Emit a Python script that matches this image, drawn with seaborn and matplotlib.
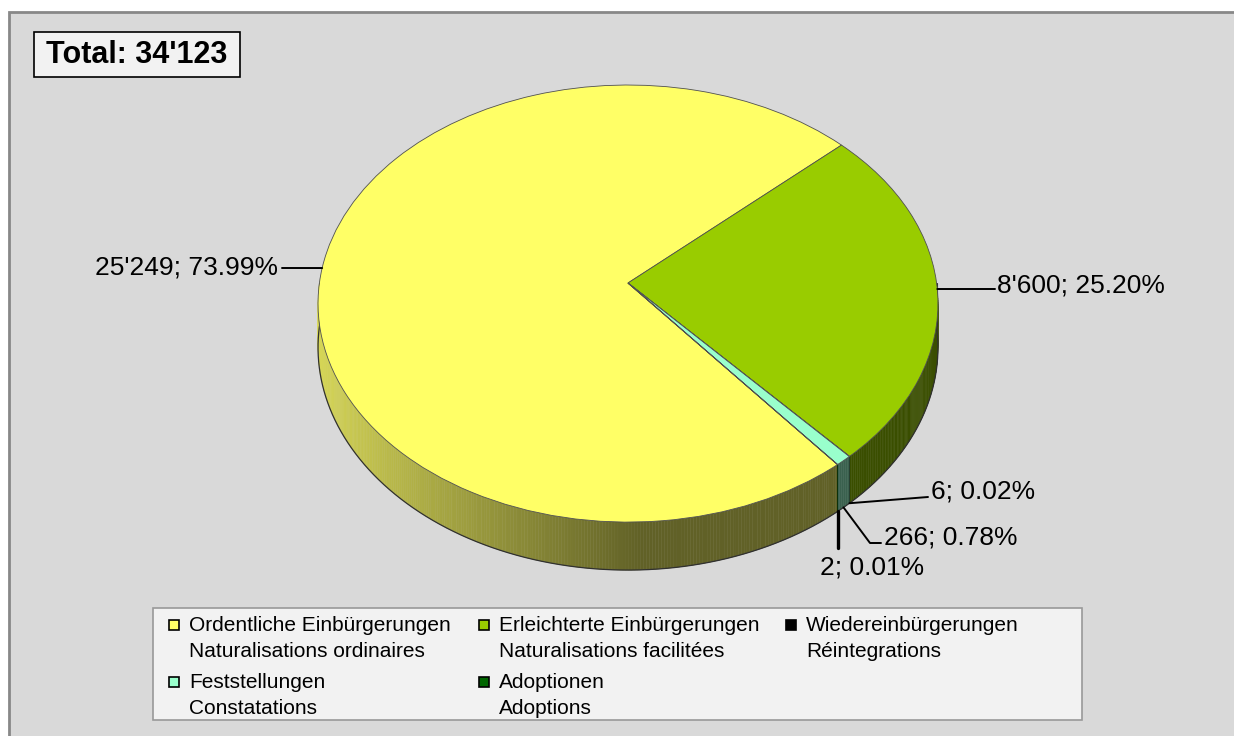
import numpy as np
import matplotlib
matplotlib.use("Agg")
import matplotlib.pyplot as plt
import matplotlib.transforms as mtransforms
from matplotlib.patches import Rectangle
import seaborn as sns

# Naturalisations by type
categories = [
    "Ordentliche Einbürgerungen\nNaturalisations ordinaires",
    "Erleichterte Einbürgerungen\nNaturalisations facilitées",
    "Wiedereinbürgerungen\nRéintegrations",
    "Feststellungen\nConstatations",
    "Adoptionen\nAdoptions",
]
counts = [25249, 8600, 6, 266, 2]
colors = ["#ffff66", "#99cc00", "#000000", "#99ffcc", "#006600"]
total = sum(counts)


def fmt_num(v):
    return f"{v:,}".replace(",", "'")


labels = [f"{fmt_num(v)}; {v / total * 100:.2f}%" for v in counts]
total_label = f"Total: {fmt_num(total)}"

W, H = 1234, 736
CX, CY = 628, H - 283      # pie apex in pixels (y up)
A, B, P = 308.6, 216.6, 0.094   # tilted-disc projection
DEPTH = 48 * (1 - P)       # side thickness (48 px at the front)


class Tilt(mtransforms.Transform):
    """Project the flat unit pie onto a tilted disc (simple perspective)."""
    input_dims = 2
    output_dims = 2
    is_separable = False
    has_inverse = False

    def transform_non_affine(self, values):
        values = np.asarray(values, dtype=float)
        u, v = values[:, 0], values[:, 1]
        r = 1.0 / (1.0 + P * v)
        return np.column_stack([CX + A * u * r, CY + B * v * r])


def pt(theta, drop=0.0):
    t = np.deg2rad(theta)
    u, v = np.cos(t), np.sin(t)
    r = 1.0 / (1.0 + P * v)
    return CX + A * u * r, CY + B * v * r - drop * r


def shade(theta):
    f = 0.40 + 0.45 * (-np.cos(np.deg2rad(theta)))
    return max(0.38, min(0.86, f))


def py(y):
    return H - y


sns.set_theme(style="white")
plt.rcParams["font.family"] = ["Liberation Sans", "DejaVu Sans"]
plt.rcParams["text.color"] = "black"

fig = plt.figure(figsize=(W / 100, H / 100), dpi=100, facecolor="white")
ax = fig.add_axes([0, 0, 1, 1])

# grey chart area
ax.add_patch(Rectangle((9, -5), W, H - 12 + 5, facecolor="#d9d9d9",
                       edgecolor="#888888", linewidth=2, zorder=0))

wedges, _ = ax.pie(counts, colors=colors, startangle=-51, counterclock=False,
                   center=(0, 0), radius=1,
                   wedgeprops=dict(edgecolor="#505050", linewidth=0.6))
tilt = Tilt()
for w in wedges:
    w.set_transform(tilt + ax.transData)
    w.set_zorder(3)

# front side wall of the pie
for w, c in zip(wedges, colors):
    base = np.array(matplotlib.colors.to_rgb(c))
    for k in range(-3, 2):
        lo = max(w.theta1, 180 + 360 * k)
        hi = min(w.theta2, 360 + 360 * k)
        if hi <= lo:
            continue
        steps = np.linspace(lo, hi, max(2, int((hi - lo) * 2) + 2))
        for a, b in zip(steps[:-1], steps[1:]):
            x0, y0 = pt(a)
            x1, y1 = pt(b)
            x2, y2 = pt(b, DEPTH)
            x3, y3 = pt(a, DEPTH)
            col = base * shade((a + b) / 2)
            ax.fill([x0, x1, x2, x3], [y0, y1, y2, y3],
                    color=col, linewidth=0.3, edgecolor=col, zorder=2)

arc = np.linspace(180, 360, 240)
bx, by = pt(arc, DEPTH)
ax.plot(bx, by, color="#303030", lw=0.9, zorder=2.5)
for a in (180, 360):
    x0, y0 = pt(a)
    x1, y1 = pt(a, DEPTH)
    ax.plot([x0, x1], [y0, y1], color="#303030", lw=0.8, zorder=2.5)


def rim_point(wedge, target_y, left):
    ts = np.linspace(wedge.theta1, wedge.theta2, 2000)
    xs, ys = pt(ts)
    ok = xs < CX if left else xs > CX
    i = np.argmin(np.where(ok, np.abs(ys - target_y), np.inf))
    return xs[i], ys[i]


fs = 19
lw = 1.4
# big slices: horizontal leader lines to the rim
x0, y0 = rim_point(wedges[0], py(268), left=True)
ax.plot([282, x0], [py(268), y0], color="black", lw=lw, zorder=4)
ax.text(278, py(268), labels[0], ha="right", va="center", fontsize=fs, zorder=4)

x1, y1 = rim_point(wedges[1], py(289), left=False)
ax.plot([x1, 995], [y1, py(289)], color="black", lw=lw, zorder=4)
ax.text(997, py(285), labels[1], ha="left", va="center", fontsize=fs, zorder=4)

# tiny slices: leader lines from bottom of the side wall
ma = pt((wedges[2].theta1 + wedges[2].theta2) / 2, DEPTH)
ax.plot([ma[0], 928], [ma[1], py(497)], color="black", lw=lw, zorder=4)
ax.text(931, py(492), labels[2], ha="left", va="center", fontsize=fs, zorder=4)

mb = pt((wedges[3].theta1 + wedges[3].theta2) / 2, DEPTH)
ax.plot([mb[0], 870, 881], [mb[1], py(543), py(543)], color="black", lw=lw, zorder=4)
ax.text(884, py(537), labels[3], ha="left", va="center", fontsize=fs, zorder=4)

mc = pt((wedges[4].theta1 + wedges[4].theta2) / 2, DEPTH)
ax.plot([mc[0], mc[0]], [mc[1], py(548)], color="black", lw=2.4, zorder=4)
ax.text(820, py(567), labels[4], ha="left", va="center", fontsize=fs, zorder=4)

# total box
ax.add_patch(Rectangle((34, py(77)), 206, 45, facecolor="#f2f2f2",
                       edgecolor="black", linewidth=1.2, zorder=4))
ax.text(137, py(55), total_label, ha="center", va="center", fontsize=22,
        fontweight="bold", zorder=5)

# legend (row-wise, 3 columns)
ax.add_patch(Rectangle((153, py(720)), 929, 112, facecolor="#f2f2f2",
                       edgecolor="#999999", linewidth=1.2, zorder=4))
col_x = [174, 484, 791]
row_y = [625, 682]
for i, (lab, c) in enumerate(zip(categories, colors)):
    mx = col_x[i % 3]
    my = row_y[i // 3]
    ax.add_patch(Rectangle((mx - 5, py(my) - 5), 10, 10, facecolor=c,
                           edgecolor="black", linewidth=1.2, zorder=5))
    ax.text(mx + 15, py(my) + 9, lab, ha="left", va="top", fontsize=15,
            linespacing=1.45, zorder=5)

ax.set_xlim(0, W)
ax.set_ylim(0, H)
ax.set_aspect("auto")
ax.axis("off")

fig.savefig("out.png", dpi=100, facecolor="white")
